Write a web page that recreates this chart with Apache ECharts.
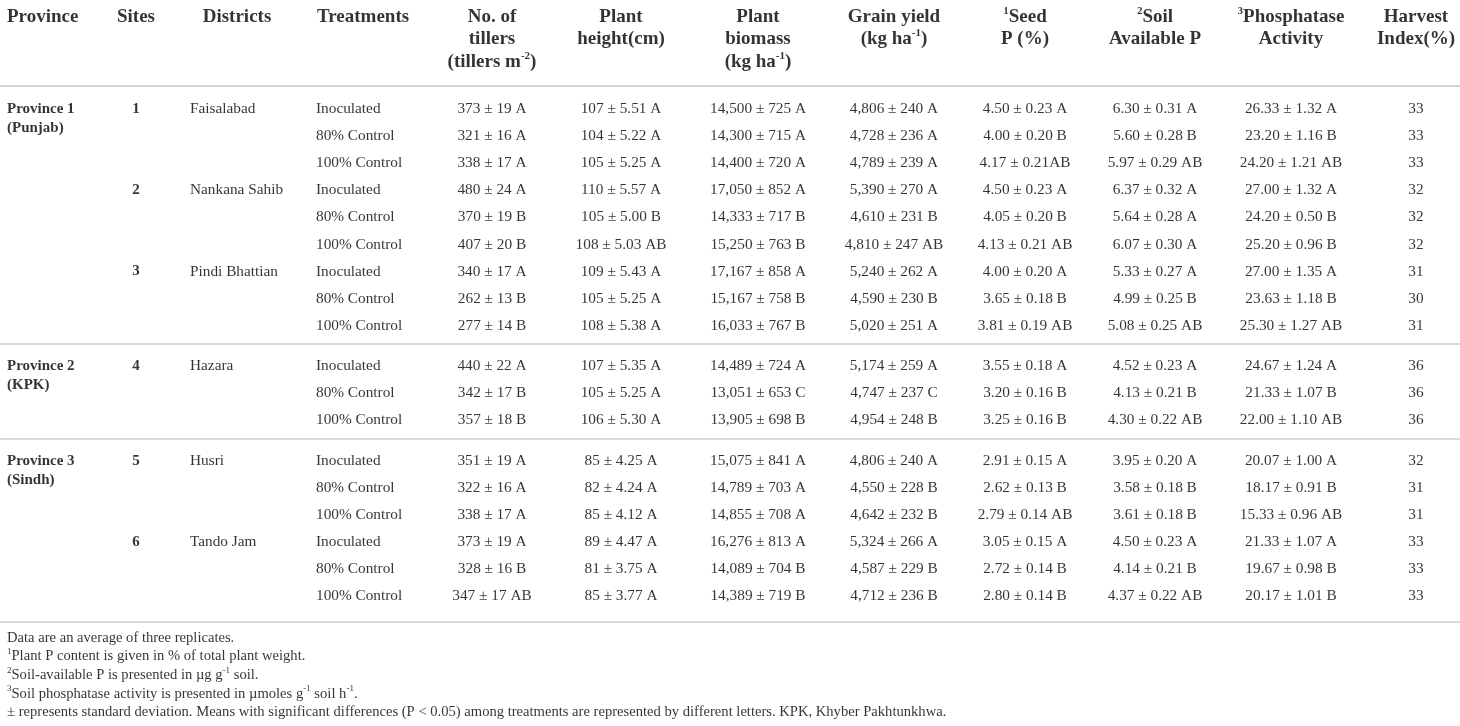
<!DOCTYPE html>
<html>
<head>
<meta charset="utf-8">
<script src="https://cdn.jsdelivr.net/npm/echarts@6/dist/echarts.min.js"></script>
<style>
html,body{margin:0;padding:0;background:#ffffff;}
#chart{width:1460px;height:726px;}
</style>
</head>
<body>
<div id="chart"></div>
<script>
// ---------- table content ----------
const headerLines = [
  ["Province"],
  ["Sites"],
  ["Districts"],
  ["Treatments"],
  ["No. of", "tillers", "(tillers m{sup|-2})"],
  ["Plant", "height(cm)"],
  ["Plant", "biomass", "(kg ha{sup|-1})"],
  ["Grain yield", "(kg ha{sup|-1})"],
  ["{sup|1}Seed", "P (%)"],
  ["{sup|2}Soil", "Available P"],
  ["{sup|3}Phosphatase", "Activity"],
  ["Harvest", "Index(%)"]
];
const provinceNames = ["Province 1", "Province 2", "Province 3"];
const provinceRegions = ["(Punjab)", "(KPK)", "(Sindh)"];
const sitesPerProvince = [3, 1, 2];
const siteNumbers = ["1", "2", "3", "4", "5", "6"];
const districts = ["Faisalabad", "Nankana Sahib", "Pindi Bhattian", "Hazara", "Husri", "Tando Jam"];
const treatments = ["Inoculated", "80% Control", "100% Control"];

const tillers = ["373 ± 19 A","321 ± 16 A","338 ± 17 A","480 ± 24 A","370 ± 19 B","407 ± 20 B","340 ± 17 A","262 ± 13 B","277 ± 14 B","440 ± 22 A","342 ± 17 B","357 ± 18 B","351 ± 19 A","322 ± 16 A","338 ± 17 A","373 ± 19 A","328 ± 16 B","347 ± 17 AB"];
const plantHeight = ["107 ± 5.51 A","104 ± 5.22 A","105 ± 5.25 A","110 ± 5.57 A","105 ± 5.00 B","108 ± 5.03 AB","109 ± 5.43 A","105 ± 5.25 A","108 ± 5.38 A","107 ± 5.35 A","105 ± 5.25 A","106 ± 5.30 A","85 ± 4.25 A","82 ± 4.24 A","85 ± 4.12 A","89 ± 4.47 A","81 ± 3.75 A","85 ± 3.77 A"];
const plantBiomass = ["14,500 ± 725 A","14,300 ± 715 A","14,400 ± 720 A","17,050 ± 852 A","14,333 ± 717 B","15,250 ± 763 B","17,167 ± 858 A","15,167 ± 758 B","16,033 ± 767 B","14,489 ± 724 A","13,051 ± 653 C","13,905 ± 698 B","15,075 ± 841 A","14,789 ± 703 A","14,855 ± 708 A","16,276 ± 813 A","14,089 ± 704 B","14,389 ± 719 B"];
const grainYield = ["4,806 ± 240 A","4,728 ± 236 A","4,789 ± 239 A","5,390 ± 270 A","4,610 ± 231 B","4,810 ± 247 AB","5,240 ± 262 A","4,590 ± 230 B","5,020 ± 251 A","5,174 ± 259 A","4,747 ± 237 C","4,954 ± 248 B","4,806 ± 240 A","4,550 ± 228 B","4,642 ± 232 B","5,324 ± 266 A","4,587 ± 229 B","4,712 ± 236 B"];
const seedP = ["4.50 ± 0.23 A","4.00 ± 0.20 B","4.17 ± 0.21AB","4.50 ± 0.23 A","4.05 ± 0.20 B","4.13 ± 0.21 AB","4.00 ± 0.20 A","3.65 ± 0.18 B","3.81 ± 0.19 AB","3.55 ± 0.18 A","3.20 ± 0.16 B","3.25 ± 0.16 B","2.91 ± 0.15 A","2.62 ± 0.13 B","2.79 ± 0.14 AB","3.05 ± 0.15 A","2.72 ± 0.14 B","2.80 ± 0.14 B"];
const soilAvailableP = ["6.30 ± 0.31 A","5.60 ± 0.28 B","5.97 ± 0.29 AB","6.37 ± 0.32 A","5.64 ± 0.28 A","6.07 ± 0.30 A","5.33 ± 0.27 A","4.99 ± 0.25 B","5.08 ± 0.25 AB","4.52 ± 0.23 A","4.13 ± 0.21 B","4.30 ± 0.22 AB","3.95 ± 0.20 A","3.58 ± 0.18 B","3.61 ± 0.18 B","4.50 ± 0.23 A","4.14 ± 0.21 B","4.37 ± 0.22 AB"];
const phosphatase = ["26.33 ± 1.32 A","23.20 ± 1.16 B","24.20 ± 1.21 AB","27.00 ± 1.32 A","24.20 ± 0.50 B","25.20 ± 0.96 B","27.00 ± 1.35 A","23.63 ± 1.18 B","25.30 ± 1.27 AB","24.67 ± 1.24 A","21.33 ± 1.07 B","22.00 ± 1.10 AB","20.07 ± 1.00 A","18.17 ± 0.91 B","15.33 ± 0.96 AB","21.33 ± 1.07 A","19.67 ± 0.98 B","20.17 ± 1.01 B"];
const harvestIndex = ["33","33","33","32","32","32","31","30","31","36","36","36","32","31","31","33","33","33"];

const footnotes = [
  "Data are an average of three replicates.",
  "{fsup|1}Plant P content is given in % of total plant weight.",
  "{fsup|2}Soil-available P is presented in µg g{fsup|-1} soil.",
  "{fsup|3}Soil phosphatase activity is presented in µmoles g{fsup|-1} soil h{fsup|-1}.",
  "± represents standard deviation. Means with significant differences (P < 0.05) among treatments are represented by different letters. KPK, Khyber Pakhtunkhwa."
];

// ---------- layout (positions / styles only) ----------
const FONT = '"Liberation Serif", "Times New Roman", serif';
const INK = '#000000';
const W = 1460, H = 726;
const headerX = [7, 136, 237, 317, 492, 621, 758, 894, 1025, 1155, 1291, 1416];
const headerAlign = ['left','center','center','left','center','center','center','center','center','center','center','center'];
const bodyX = [7, 136, 190, 316, 492, 621, 758, 894, 1025, 1155, 1291, 1416];
const bodyAlign = ['left','center','left','left','center','center','center','center','center','center','center','center'];
const HEADER_TOP = 17, HEADER_STEP = 22.5;
const ROW0 = 109, ROW_STEP = 27.1, GROUP_GAP = 13.3, REGION_STEP = 19;
const FOOT_TOP = 638, FOOT_STEP = 18.6;

// ---------- build cells ----------
const headerCells = [];
headerLines.forEach((lines, c) => {
  lines.forEach((t, k) => {
    headerCells.push({ name: t, value: [headerX[c], HEADER_TOP + k * HEADER_STEP], label: { align: headerAlign[c] } });
  });
});

const numericCols = [tillers, plantHeight, plantBiomass, grainYield, seedP, soilAvailableP, phosphatase, harvestIndex];
const boldCells = [], bodyCells = [], lineYs = [];
let row = 0, site = 0;
sitesPerProvince.forEach((nSites, g) => {
  const firstY = ROW0 + row * ROW_STEP + g * GROUP_GAP;
  boldCells.push({ name: provinceNames[g], value: [bodyX[0], firstY], label: { align: bodyAlign[0] } });
  boldCells.push({ name: provinceRegions[g], value: [bodyX[0], firstY + REGION_STEP], label: { align: bodyAlign[0] } });
  let lastY = firstY;
  for (let s = 0; s < nSites; s++) {
    const siteY = ROW0 + row * ROW_STEP + g * GROUP_GAP;
    boldCells.push({ name: siteNumbers[site], value: [bodyX[1], siteY], label: { align: bodyAlign[1] } });
    bodyCells.push({ name: districts[site], value: [bodyX[2], siteY], label: { align: bodyAlign[2] } });
    treatments.forEach((tr) => {
      const y = ROW0 + row * ROW_STEP + g * GROUP_GAP;
      bodyCells.push({ name: tr, value: [bodyX[3], y], label: { align: bodyAlign[3] } });
      numericCols.forEach((col, j) => {
        bodyCells.push({ name: col[row], value: [bodyX[4 + j], y], label: { align: bodyAlign[4 + j] } });
      });
      lastY = y;
      row++;
    });
    site++;
  }
  lineYs.push(g < sitesPerProvince.length - 1 ? lastY + 18 : lastY + 25);
});

const footCells = footnotes.map((t, k) => ({ name: t, value: [7, FOOT_TOP + k * FOOT_STEP], label: { align: 'left' } }));

function textSeries(name, data, size, weight, rich) {
  return {
    name: name,
    type: 'scatter',
    symbolSize: 1,
    silent: true,
    itemStyle: { color: 'rgba(0,0,0,0)' },
    data: data,
    label: {
      show: true,
      position: 'inside',
      verticalAlign: 'middle',
      formatter: (p) => p.name,
      fontFamily: FONT,
      fontSize: size,
      fontWeight: weight,
      color: INK,
      lineHeight: size + 4,
      rich: rich || {}
    },
    emphasis: { disabled: true },
    z: 5
  };
}

const supStyle = { fontFamily: FONT, fontSize: 11, fontWeight: 'bold', color: INK, verticalAlign: 'top' };
const fsupStyle = { fontFamily: FONT, fontSize: 9, color: INK, verticalAlign: 'top' };

const option = {
  animation: false,
  backgroundColor: '#ffffff',
  grid: { left: 0, right: 0, top: 0, bottom: 0 },
  xAxis: { type: 'value', min: 0, max: W, show: false },
  yAxis: { type: 'value', min: 0, max: H, inverse: true, show: false },
  series: [
    textSeries('header', headerCells, 19, 'bold', { sup: supStyle }),
    textSeries('bold', boldCells, 15, 'bold'),
    textSeries('body', bodyCells, 15.3, 'normal'),
    textSeries('foot', footCells, 14.6, 'normal', { fsup: fsupStyle }),
    {
      name: 'rules',
      type: 'scatter',
      data: [],
      silent: true,
      markLine: {
        silent: true,
        symbol: 'none',
        label: { show: false },
        data: [{ yAxis: 86, lineStyle: { color: '#d4d4d4', width: 2, type: 'solid' } }]
          .concat(lineYs.map(y => ({ yAxis: y, lineStyle: { color: '#cdcdcd', width: 1.5, type: 'solid' } })))
      }
    }
  ]
};

const chart = echarts.init(document.getElementById('chart'), null, { renderer: 'canvas' });
chart.setOption(option);
</script>
</body>
</html>
